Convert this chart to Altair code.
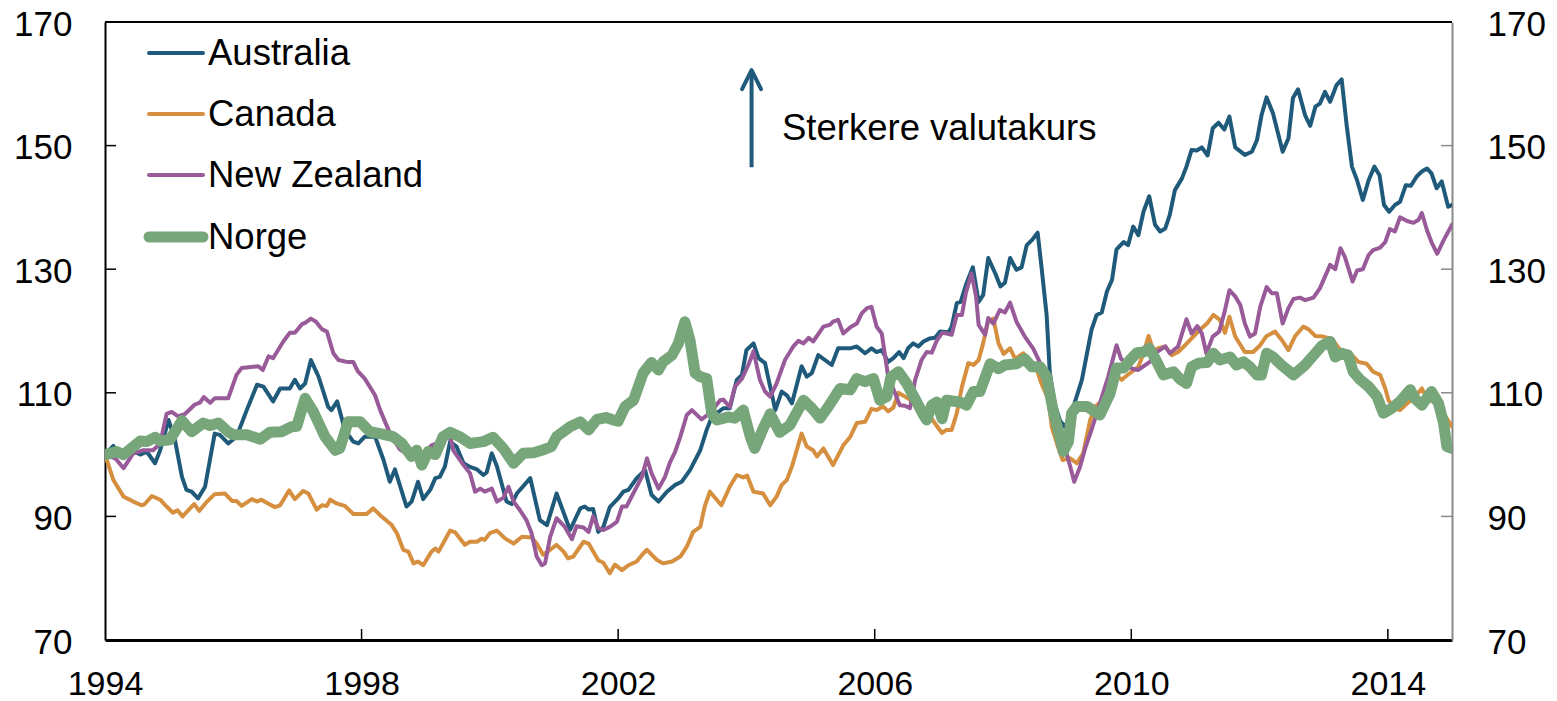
import altair as alt
import pandas as pd

SERIES = ["Australia", "Canada", "New Zealand", "Norge"]
COLORS = ["#1f5a7a", "#d58f3f", "#985a98", "#76a67a"]
WIDTHS = [4, 4, 4, 11]

AUS_T = [1994.00, 1994.13, 1994.21, 1994.44, 1994.55, 1994.65, 1994.78, 1994.86, 1994.99, 1995.09,
         1995.20, 1995.27, 1995.35, 1995.45, 1995.56, 1995.71, 1995.79, 1995.92, 1996.05, 1996.21,
         1996.37, 1996.47, 1996.62, 1996.73, 1996.88, 1996.96, 1997.04, 1997.12, 1997.21, 1997.33,
         1997.48, 1997.53, 1997.62, 1997.74, 1997.87, 1997.95, 1998.05, 1998.21, 1998.34, 1998.44,
         1998.52, 1998.70, 1998.78, 1998.88, 1998.96, 1999.07, 1999.15, 1999.22, 1999.30, 1999.38,
         1999.48, 1999.59, 1999.69, 1999.80, 1999.90, 1999.95, 2000.03, 2000.11, 2000.26, 2000.34,
         2000.42, 2000.63, 2000.78, 2000.89, 2001.04, 2001.25, 2001.41, 2001.48, 2001.54, 2001.61,
         2001.69, 2001.77, 2001.87, 2002.00, 2002.08, 2002.16, 2002.29, 2002.37, 2002.42, 2002.52,
         2002.63, 2002.76, 2002.89, 2002.99, 2003.12, 2003.28, 2003.38, 2003.46, 2003.64, 2003.74,
         2003.85, 2003.93, 2004.00, 2004.11, 2004.19, 2004.29, 2004.37, 2004.45, 2004.55, 2004.63,
         2004.71, 2004.86, 2004.94, 2005.02, 2005.12, 2005.33, 2005.43, 2005.62, 2005.72, 2005.85,
         2005.95, 2006.03, 2006.11, 2006.21, 2006.29, 2006.38, 2006.45, 2006.52, 2006.60, 2006.68,
         2006.76, 2006.86, 2006.94, 2007.02, 2007.15, 2007.20, 2007.28, 2007.34, 2007.43, 2007.53,
         2007.62, 2007.69, 2007.77, 2007.88, 2007.96, 2008.03, 2008.11, 2008.21, 2008.29, 2008.37,
         2008.45, 2008.54, 2008.60, 2008.68, 2008.73, 2008.81, 2008.89, 2008.96, 2009.02, 2009.10,
         2009.23, 2009.31, 2009.38, 2009.46, 2009.54, 2009.62, 2009.70, 2009.77, 2009.88, 2009.95,
         2010.03, 2010.11, 2010.19, 2010.28, 2010.37, 2010.45, 2010.53, 2010.60, 2010.68, 2010.79,
         2010.86, 2010.94, 2011.02, 2011.10, 2011.19, 2011.27, 2011.36, 2011.45, 2011.53, 2011.62,
         2011.77, 2011.88, 2011.96, 2012.03, 2012.11, 2012.21, 2012.36, 2012.45, 2012.52, 2012.60,
         2012.71, 2012.79, 2012.87, 2012.94, 2013.02, 2013.10, 2013.20, 2013.28, 2013.36, 2013.44,
         2013.52, 2013.61, 2013.70, 2013.79, 2013.87, 2013.94, 2014.02, 2014.11, 2014.19, 2014.28,
         2014.36, 2014.45, 2014.53, 2014.61, 2014.68, 2014.76, 2014.84, 2014.94, 2015.00]
AUS_V = [100.0, 101.4, 100.0, 100.6, 100.0, 100.5, 98.6, 100.7, 105.6, 102.4,
         96.4, 94.3, 94.0, 92.9, 94.8, 103.4, 103.2, 101.8, 102.9, 107.2,
         111.3, 111.0, 108.6, 110.7, 110.7, 112.1, 110.7, 111.5, 115.3, 112.6,
         107.7, 107.2, 108.6, 104.0, 102.1, 101.8, 102.9, 102.9, 99.2, 95.6,
         97.6, 91.6, 92.4, 95.6, 92.8, 94.3, 96.2, 96.4, 98.1, 102.1,
         101.3, 98.6, 98.0, 97.6, 96.7, 97.1, 100.2, 98.1, 92.4, 92.0,
         93.7, 96.2, 89.4, 88.6, 93.7, 87.8, 91.3, 91.6, 91.1, 91.2,
         87.5, 88.3, 91.5, 92.9, 94.0, 94.3, 96.2, 97.0, 97.5, 93.5,
         92.4, 94.0, 95.1, 95.6, 97.5, 100.7, 104.0, 106.1, 107.5, 107.5,
         112.1, 112.9, 116.9, 118.0, 115.6, 114.8, 111.0, 107.2, 110.2, 109.6,
         108.3, 114.3, 112.6, 113.2, 116.1, 114.5, 117.2, 117.2, 117.5, 116.4,
         117.2, 116.6, 116.9, 115.0, 115.6, 116.6, 115.6, 117.2, 118.0, 117.5,
         118.3, 118.8, 118.9, 119.9, 119.8, 120.7, 124.5, 124.7, 127.7, 130.3,
         124.7, 125.8, 131.8, 129.3, 127.2, 127.8, 131.8, 129.9, 130.3, 133.9,
         134.7, 135.9, 130.4, 122.6, 113.2, 108.0, 105.5, 104.5, 105.5, 107.8,
         112.1, 116.4, 120.2, 122.6, 123.0, 126.4, 128.3, 133.2, 134.4, 133.9,
         136.9, 135.5, 139.3, 141.8, 137.2, 136.1, 136.6, 138.8, 142.8, 144.7,
         146.6, 149.3, 149.2, 149.7, 148.4, 152.8, 153.7, 152.6, 154.7, 149.7,
         148.5, 149.0, 150.9, 154.9, 157.8, 155.2, 149.0, 151.2, 157.7, 159.1,
         154.9, 153.2, 156.3, 156.8, 158.7, 157.1, 159.8, 160.7, 153.1, 146.6,
         144.4, 141.2, 144.4, 146.6, 145.2, 140.4, 139.3, 140.4, 140.9, 143.6,
         143.5, 145.0, 145.8, 146.3, 145.5, 143.1, 144.2, 140.1, 140.4]

CAN_T = [1994.00, 1994.13, 1994.29, 1994.44, 1994.57, 1994.62, 1994.73, 1994.86, 1994.96, 1995.06,
         1995.13, 1995.21, 1995.30, 1995.39, 1995.47, 1995.59, 1995.71, 1995.87, 1995.98, 1996.05,
         1996.13, 1996.29, 1996.37, 1996.44, 1996.52, 1996.65, 1996.73, 1996.87, 1996.96, 1997.09,
         1997.17, 1997.30, 1997.38, 1997.46, 1997.51, 1997.61, 1997.74, 1997.87, 1998.08, 1998.18,
         1998.29, 1998.47, 1998.55, 1998.65, 1998.73, 1998.81, 1998.88, 1998.96, 1999.09, 1999.15,
         1999.20, 1999.27, 1999.38, 1999.46, 1999.61, 1999.69, 1999.80, 1999.87, 1999.92, 2000.00,
         2000.11, 2000.24, 2000.37, 2000.50, 2000.65, 2000.73, 2000.83, 2000.94, 2001.04, 2001.15,
         2001.22, 2001.30, 2001.46, 2001.54, 2001.69, 2001.77, 2001.87, 2001.95, 2002.06, 2002.16,
         2002.29, 2002.39, 2002.45, 2002.60, 2002.70, 2002.84, 2002.97, 2003.07, 2003.17, 2003.28,
         2003.35, 2003.43, 2003.61, 2003.74, 2003.85, 2003.95, 2004.01, 2004.11, 2004.26, 2004.37,
         2004.47, 2004.55, 2004.63, 2004.71, 2004.86, 2004.94, 2005.04, 2005.10, 2005.20, 2005.35,
         2005.51, 2005.62, 2005.72, 2005.85, 2005.95, 2006.03, 2006.13, 2006.21, 2006.29, 2006.37,
         2006.47, 2006.55, 2006.71, 2006.86, 2006.97, 2007.05, 2007.12, 2007.20, 2007.28, 2007.36,
         2007.46, 2007.54, 2007.62, 2007.69, 2007.77, 2007.85, 2007.93, 2008.01, 2008.11, 2008.19,
         2008.32, 2008.40, 2008.50, 2008.60, 2008.71, 2008.76, 2008.84, 2008.93, 2009.05, 2009.15,
         2009.25, 2009.36, 2009.44, 2009.56, 2009.72, 2009.85, 2009.98, 2010.11, 2010.19, 2010.27,
         2010.34, 2010.42, 2010.53, 2010.63, 2010.73, 2010.84, 2010.94, 2011.07, 2011.18, 2011.28,
         2011.38, 2011.46, 2011.53, 2011.62, 2011.77, 2011.90, 2012.01, 2012.11, 2012.24, 2012.35,
         2012.45, 2012.55, 2012.68, 2012.76, 2012.87, 2012.99, 2013.13, 2013.26, 2013.41, 2013.54,
         2013.67, 2013.77, 2013.88, 2013.96, 2014.01, 2014.11, 2014.19, 2014.30, 2014.40, 2014.53,
         2014.61, 2014.74, 2014.87, 2015.00]
CAN_V = [100.0, 95.9, 93.2, 92.4, 91.8, 92.0, 93.3, 92.7, 91.6, 90.6,
         91.0, 90.0, 91.0, 92.0, 90.9, 92.4, 93.6, 93.7, 92.5, 92.5,
         91.7, 92.8, 92.4, 92.7, 92.2, 91.5, 91.8, 94.2, 92.8, 94.1,
         93.7, 91.1, 91.8, 91.7, 92.7, 92.1, 91.7, 90.4, 90.4, 91.3,
         90.2, 88.6, 87.3, 84.6, 84.3, 82.4, 82.7, 82.1, 84.3, 84.8,
         84.3, 85.6, 87.7, 87.4, 85.4, 85.9, 85.9, 86.4, 86.2, 87.3,
         87.7, 86.4, 85.6, 86.7, 86.6, 85.6, 83.8, 84.6, 85.4, 84.3,
         83.2, 83.5, 85.9, 85.6, 82.9, 82.5, 80.8, 82.2, 81.3, 82.1,
         82.7, 84.0, 84.6, 83.0, 82.4, 82.7, 83.5, 85.1, 87.5, 88.3,
         91.6, 94.0, 91.8, 94.8, 96.7, 96.3, 96.6, 94.0, 93.7, 91.8,
         93.2, 95.1, 95.9, 98.1, 103.4, 101.3, 100.7, 99.7, 101.0, 98.3,
         101.5, 102.9, 105.1, 105.3, 107.4, 107.2, 107.8, 107.0, 107.6, 110.0,
         109.4, 108.9, 107.3, 106.2, 104.6, 103.5, 104.0, 104.0, 106.7, 111.0,
         114.8, 114.5, 115.3, 118.0, 121.6, 122.0, 118.0, 116.3, 117.2, 115.5,
         116.4, 115.1, 114.6, 111.5, 108.8, 104.5, 101.8, 99.1, 99.4, 98.6,
         100.2, 105.6, 107.8, 108.8, 113.2, 112.1, 113.2, 114.2, 116.4, 119.2,
         116.9, 117.2, 117.5, 116.1, 116.6, 117.7, 118.8, 120.2, 121.2, 122.6,
         121.8, 119.7, 122.3, 119.1, 116.6, 116.6, 117.7, 119.2, 119.9, 118.5,
         116.9, 119.1, 120.7, 120.3, 119.2, 119.1, 118.7, 116.9, 116.4, 115.0,
         114.7, 113.4, 112.9, 110.7, 108.8, 107.5, 107.2, 108.3, 109.1, 110.7,
         109.1, 108.3, 106.7, 104.5]

NZ_T = [1994.00, 1994.16, 1994.29, 1994.44, 1994.60, 1994.75, 1994.86, 1994.96, 1995.04, 1995.14,
        1995.25, 1995.40, 1995.48, 1995.54, 1995.64, 1995.71, 1995.92, 1996.05, 1996.13, 1996.31,
        1996.39, 1996.46, 1996.55, 1996.62, 1996.78, 1996.88, 1996.96, 1997.07, 1997.12, 1997.21,
        1997.29, 1997.38, 1997.46, 1997.56, 1997.64, 1997.77, 1997.87, 1997.94, 1998.05, 1998.21,
        1998.29, 1998.42, 1998.49, 1998.60, 1998.76, 1998.91, 1999.09, 1999.22, 1999.38, 1999.43,
        1999.59, 1999.69, 1999.77, 1999.85, 1999.92, 2000.03, 2000.11, 2000.21, 2000.29, 2000.37,
        2000.47, 2000.57, 2000.65, 2000.73, 2000.81, 2000.86, 2000.94, 2001.04, 2001.17, 2001.28,
        2001.35, 2001.46, 2001.54, 2001.61, 2001.69, 2001.77, 2001.87, 2001.98, 2002.06, 2002.13,
        2002.29, 2002.37, 2002.45, 2002.52, 2002.63, 2002.73, 2002.81, 2002.89, 2002.97, 2003.07,
        2003.15, 2003.30, 2003.43, 2003.59, 2003.64, 2003.74, 2003.82, 2003.93, 2004.03, 2004.11,
        2004.21, 2004.29, 2004.37, 2004.47, 2004.60, 2004.73, 2004.81, 2004.89, 2004.97, 2005.04,
        2005.20, 2005.30, 2005.35, 2005.43, 2005.51, 2005.62, 2005.72, 2005.80, 2005.88, 2005.95,
        2006.03, 2006.11, 2006.16, 2006.21, 2006.32, 2006.39, 2006.47, 2006.55, 2006.63, 2006.73,
        2006.81, 2006.89, 2006.97, 2007.05, 2007.12, 2007.20, 2007.28, 2007.36, 2007.42, 2007.51,
        2007.58, 2007.62, 2007.72, 2007.77, 2007.85, 2007.95, 2008.03, 2008.11, 2008.21, 2008.34,
        2008.47, 2008.58, 2008.73, 2008.84, 2008.99, 2009.05, 2009.11, 2009.20, 2009.29, 2009.38,
        2009.51, 2009.64, 2009.77, 2009.84, 2010.01, 2010.11, 2010.29, 2010.40, 2010.53, 2010.60,
        2010.73, 2010.86, 2010.94, 2011.03, 2011.10, 2011.17, 2011.23, 2011.27, 2011.37, 2011.45,
        2011.53, 2011.62, 2011.70, 2011.77, 2011.85, 2011.93, 2012.01, 2012.11, 2012.19, 2012.27,
        2012.36, 2012.45, 2012.53, 2012.63, 2012.71, 2012.84, 2012.94, 2013.02, 2013.10, 2013.18,
        2013.26, 2013.33, 2013.45, 2013.52, 2013.61, 2013.70, 2013.77, 2013.88, 2013.96, 2014.03,
        2014.11, 2014.19, 2014.30, 2014.40, 2014.48, 2014.53, 2014.61, 2014.68, 2014.77, 2014.87,
        2015.00]
NZ_V = [100.0, 99.4, 97.8, 100.2, 100.7, 100.7, 101.8, 106.6, 106.9, 106.2,
        106.6, 108.1, 108.4, 109.3, 108.4, 109.1, 109.1, 112.9, 114.0, 114.2,
        114.3, 113.7, 115.9, 115.6, 118.3, 119.7, 119.7, 121.1, 121.3, 122.0,
        121.5, 120.3, 119.9, 116.4, 115.3, 115.0, 115.0, 113.5, 112.3, 109.6,
        107.2, 104.0, 102.6, 100.8, 99.8, 99.5, 101.5, 102.0, 103.0, 100.7,
        98.3, 97.0, 94.0, 94.5, 94.0, 94.5, 92.4, 93.0, 94.8, 92.4,
        91.0, 89.4, 87.3, 83.5, 82.1, 82.4, 86.7, 89.7, 88.3, 86.3,
        88.4, 88.2, 87.5, 90.0, 88.1, 87.8, 88.3, 89.1, 91.6, 91.6,
        94.8, 96.4, 99.4, 97.0, 94.5, 96.4, 98.8, 100.5, 102.9, 106.4,
        107.2, 105.7, 106.7, 108.8, 108.9, 107.7, 111.0, 112.3, 114.5, 116.7,
        112.1, 110.2, 109.4, 111.5, 115.3, 117.5, 118.4, 118.0, 118.9, 118.3,
        120.7, 121.0, 121.5, 121.8, 119.6, 120.6, 121.2, 122.9, 123.7, 123.9,
        120.7, 119.6, 116.1, 112.6, 109.9, 108.0, 107.9, 107.5, 112.1, 115.3,
        116.6, 116.5, 118.5, 119.7, 119.6, 119.4, 122.6, 122.6, 126.1, 129.3,
        125.6, 121.0, 119.4, 122.1, 121.2, 123.4, 123.0, 124.6, 121.5, 119.1,
        117.2, 114.8, 109.9, 104.5, 100.2, 98.0, 95.6, 98.0, 101.3, 104.0,
        108.3, 112.6, 117.7, 115.5, 113.9, 113.7, 115.0, 116.6, 117.5, 116.4,
        117.5, 121.9, 119.6, 120.8, 119.6, 116.4, 118.0, 119.1, 119.9, 122.9,
        126.6, 125.6, 124.2, 121.2, 119.1, 119.6, 123.9, 127.1, 126.1, 126.1,
        121.2, 123.7, 125.2, 125.4, 125.0, 125.4, 126.9, 128.8, 130.7, 130.0,
        133.4, 132.0, 128.0, 129.8, 130.0, 132.3, 133.1, 133.5, 134.4, 136.5,
        136.1, 138.4, 137.8, 137.5, 138.0, 139.1, 136.3, 134.4, 132.5, 134.7,
        137.2]

NOR_T = [1994.00, 1994.18, 1994.29, 1994.55, 1994.65, 1994.78, 1994.86, 1995.01, 1995.20, 1995.35,
         1995.53, 1995.64, 1995.77, 1995.92, 1996.00, 1996.21, 1996.42, 1996.57, 1996.75, 1996.91,
         1996.99, 1997.12, 1997.25, 1997.43, 1997.59, 1997.66, 1997.79, 1997.98, 1998.13, 1998.29,
         1998.49, 1998.63, 1998.78, 1998.86, 1998.94, 1999.04, 1999.15, 1999.27, 1999.38, 1999.53,
         1999.69, 1999.90, 2000.05, 2000.21, 2000.37, 2000.52, 2000.68, 2000.81, 2000.96, 2001.04,
         2001.25, 2001.41, 2001.54, 2001.67, 2001.82, 2001.92, 2002.00, 2002.11, 2002.24, 2002.39,
         2002.52, 2002.63, 2002.70, 2002.84, 2002.94, 2003.04, 2003.12, 2003.20, 2003.28, 2003.38,
         2003.46, 2003.54, 2003.72, 2003.82, 2003.95, 2004.06, 2004.13, 2004.26, 2004.37, 2004.52,
         2004.68, 2004.89, 2005.02, 2005.15, 2005.28, 2005.46, 2005.62, 2005.72, 2005.85, 2005.98,
         2006.08, 2006.19, 2006.25, 2006.37, 2006.50, 2006.63, 2006.76, 2006.81, 2006.89, 2006.97,
         2007.05, 2007.12, 2007.33, 2007.43, 2007.54, 2007.64, 2007.80, 2007.93, 2008.03, 2008.21,
         2008.34, 2008.45, 2008.58, 2008.68, 2008.79, 2008.86, 2008.94, 2009.02, 2009.07, 2009.15,
         2009.31, 2009.51, 2009.67, 2009.77, 2009.88, 2009.98, 2010.09, 2010.19, 2010.28, 2010.37,
         2010.50, 2010.66, 2010.76, 2010.86, 2010.94, 2011.05, 2011.18, 2011.28, 2011.38, 2011.54,
         2011.64, 2011.75, 2011.85, 2011.96, 2012.03, 2012.11, 2012.21, 2012.34, 2012.53, 2012.71,
         2012.87, 2012.97, 2013.10, 2013.18, 2013.28, 2013.38, 2013.46, 2013.57, 2013.70, 2013.83,
         2013.93, 2014.06, 2014.19, 2014.35, 2014.42, 2014.53, 2014.68, 2014.79, 2014.87, 2014.92,
         2015.00]
NOR_V = [100.0, 100.5, 100.0, 102.2, 102.1, 102.8, 102.2, 102.4, 105.5, 103.7,
         105.1, 104.7, 105.1, 103.7, 103.2, 103.2, 102.5, 103.6, 103.7, 104.5,
         104.6, 109.1, 106.9, 102.9, 100.7, 101.0, 105.3, 105.3, 103.7, 103.4,
         102.9, 101.8, 99.7, 100.7, 98.3, 100.5, 100.0, 102.9, 103.6, 102.9,
         101.8, 102.1, 102.8, 101.0, 98.6, 100.2, 100.3, 100.7, 101.3, 102.9,
         104.5, 105.3, 104.0, 105.7, 106.0, 105.6, 105.4, 107.8, 108.8, 113.2,
         114.9, 113.7, 115.0, 116.1, 118.0, 121.5, 118.5, 113.2, 112.6, 112.3,
         106.6, 105.6, 106.1, 105.9, 107.2, 102.9, 101.0, 104.2, 106.6, 103.6,
         104.8, 108.8, 107.5, 105.9, 107.8, 110.7, 110.5, 112.3, 111.8, 112.3,
         108.8, 109.4, 112.5, 113.4, 111.5, 109.0, 106.4, 105.6, 108.0, 108.5,
         105.8, 108.8, 108.5, 108.0, 110.2, 110.2, 114.7, 113.9, 114.5, 114.7,
         115.5, 114.2, 114.2, 112.6, 106.7, 104.0, 100.5, 102.1, 106.7, 107.8,
         107.8, 106.4, 109.9, 114.0, 114.0, 115.3, 116.5, 116.6, 117.2, 115.6,
         112.9, 113.4, 112.2, 111.5, 114.2, 114.8, 114.9, 116.4, 115.3, 115.8,
         114.5, 115.0, 114.2, 112.9, 112.9, 116.4, 115.8, 114.5, 112.9, 114.5,
         116.4, 117.6, 118.3, 115.8, 116.4, 116.1, 113.4, 112.1, 111.0, 109.4,
         106.7, 107.5, 108.6, 110.5, 109.1, 108.0, 110.2, 108.3, 105.0, 101.3,
         101.0]

YEAR_TICKS = [1994, 1998, 2002, 2006, 2010, 2014]
INNER_X_TICKS = [1998, 2002, 2006, 2010, 2014]
Y_TICKS = [70, 90, 110, 130, 150, 170]
INNER_Y_TICKS = [90, 110, 130, 150]

ANNOT_TEXT = "Sterkere valutakurs"

FONT = "Liberation Sans"
W, H = 1347, 618

series_data = {
    "Australia": (AUS_T, AUS_V),
    "Canada": (CAN_T, CAN_V),
    "New Zealand": (NZ_T, NZ_V),
    "Norge": (NOR_T, NOR_V),
}

xscale = alt.Scale(domain=[1994, 2015], nice=False, zero=False)
yscale = alt.Scale(domain=[70, 170], nice=False, zero=False)

x_axis = alt.Axis(values=YEAR_TICKS, format="d", grid=False, ticks=False, tickSize=0,
                  domainColor="black", domainWidth=3, labelPadding=27, labelFlush=False,
                  labelFont=FONT, labelFontSize=34, labelColor="black", title=None)
y_axis_left = alt.Axis(values=Y_TICKS, grid=False, ticks=False, tickSize=0,
                       domainColor="black", domainWidth=2, labelPadding=33, labelOffset=2,
                       labelFont=FONT, labelFontSize=35, labelColor="black", title=None)
y_axis_right = alt.Axis(values=Y_TICKS, orient="right", grid=False, ticks=False, tickSize=0,
                        domainColor="#8a8a8a", domainWidth=2, labelPadding=35, labelOffset=2,
                        labelFont=FONT, labelFontSize=35, labelColor="black", title=None)

layers = []

# top border
top_df = pd.DataFrame({"value": [170]})
layers.append(alt.Chart(top_df).mark_rule(color="black", strokeWidth=2).encode(
    y=alt.Y("value:Q", scale=yscale, axis=y_axis_left)))

# inward ticks, left
lt_df = pd.DataFrame({"value": INNER_Y_TICKS})
layers.append(alt.Chart(lt_df).mark_rule(color="black", strokeWidth=1.5).encode(
    y=alt.Y("value:Q", scale=yscale, axis=y_axis_left), x=alt.value(0), x2=alt.value(11)))

# inward ticks, bottom
xt_df = pd.DataFrame({"year": INNER_X_TICKS})
layers.append(alt.Chart(xt_df).mark_rule(color="black", strokeWidth=1.5).encode(
    x=alt.X("year:Q", scale=xscale, axis=x_axis), y=alt.value(H), y2=alt.value(H - 11)))

# series lines
for name, color, sw in zip(SERIES, COLORS, WIDTHS):
    t, v = series_data[name]
    df = pd.DataFrame({"year": t, "value": v, "series": name})
    layers.append(alt.Chart(df).mark_line(color=color, strokeWidth=sw, strokeJoin="round",
                                          strokeCap="round", clip=True).encode(
        x=alt.X("year:Q", scale=xscale, axis=x_axis),
        y=alt.Y("value:Q", scale=yscale, axis=y_axis_left)))

# legend (manual)
LEG_X0, LEG_X1, LEG_TX = 44, 98, 103
LEG_Y = [31, 92, 153, 215]
for name, color, sw, ly in zip(SERIES, COLORS, WIDTHS, LEG_Y):
    ldf = pd.DataFrame({"series": [name]})
    layers.append(alt.Chart(ldf).mark_rule(color=color, strokeWidth=sw, strokeCap="round").encode(
        x=alt.value(LEG_X0), x2=alt.value(LEG_X1), y=alt.value(ly)))
    layers.append(alt.Chart(ldf).mark_text(align="left", baseline="middle", font=FONT,
                                           fontSize=36.5, color="black").encode(
        x=alt.value(LEG_TX), y=alt.value(ly + 1), text="series:N"))

# arrow annotation
arrow_df = pd.DataFrame({"year": [2004.08], "y0": [146.5], "y1": [162.2]})
layers.append(alt.Chart(arrow_df).mark_rule(color="#1f5a7a", strokeWidth=4).encode(
    x=alt.X("year:Q", scale=xscale, axis=x_axis),
    y=alt.Y("y0:Q", scale=yscale, axis=y_axis_left), y2="y1:Q"))
layers.append(alt.Chart(arrow_df).mark_point(shape="M-0.5,1L0,0L0.5,1", size=1444, filled=False,
                                             color="#1f5a7a", strokeWidth=4, strokeCap="round",
                                             strokeJoin="round", opacity=1).encode(
    x=alt.X("year:Q", scale=xscale, axis=x_axis),
    y=alt.Y("y1:Q", scale=yscale, axis=y_axis_left)))

text_df = pd.DataFrame({"year": [2004.555], "value": [150.9], "label": [ANNOT_TEXT]})
layers.append(alt.Chart(text_df).mark_text(align="left", baseline="alphabetic", font=FONT,
                                           fontSize=36.5, color="black").encode(
    x=alt.X("year:Q", scale=xscale, axis=x_axis),
    y=alt.Y("value:Q", scale=yscale, axis=y_axis_left), text="label:N"))

main = alt.layer(*layers)

# right axis with inward ticks
rt_df = pd.DataFrame({"value": INNER_Y_TICKS})
right = alt.Chart(rt_df).mark_rule(color="#8a8a8a", strokeWidth=1.5).encode(
    y=alt.Y("value:Q", scale=yscale, axis=y_axis_right), x=alt.value(W - 11), x2=alt.value(W))

chart = alt.layer(main, right).resolve_scale(y="independent").properties(
    width=W, height=H,
    padding={"left": 97, "top": 14, "right": 97, "bottom": 61},
    autosize=alt.AutoSizeParams(type="none"),
    background="white",
).configure_view(strokeWidth=0)

chart.save("out.html", embed_options={"renderer": "svg", "actions": False})
